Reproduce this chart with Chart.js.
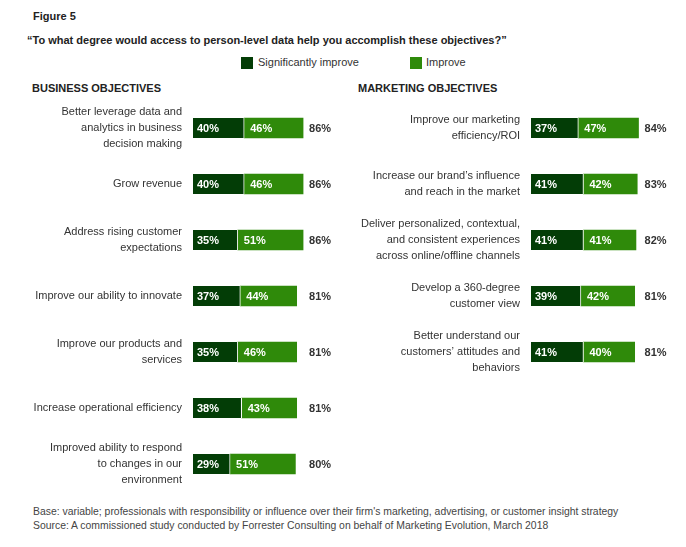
<!DOCTYPE html>
<html>
<head>
<meta charset="utf-8">
<script src="https://cdn.jsdelivr.net/npm/chart.js@4.4.1/dist/chart.umd.min.js"></script>
<style>
  html, body { margin: 0; padding: 0; background: #fff; overflow: hidden; }
  body { width: 686px; height: 547px; position: relative; font-family: "Liberation Sans", Arial, sans-serif; color: #222; }
  .txt { position: absolute; white-space: nowrap; }
  .b { font-weight: bold; }
  .sw { position: absolute; width: 12px; height: 12px; }
  canvas { position: absolute; }
</style>
</head>
<body>
<div class="txt b" style="left:33px; top:10px; font-size:11px;">Figure 5</div>
<div class="txt b" style="left:27px; top:34px; font-size:11px;">“To what degree would access to person-level data help you accomplish these objectives?”</div>

<div class="sw" style="left:241px; top:57px; background:#033d06;"></div>
<div class="txt" style="left:258px; top:56px; font-size:11px; color:#333;">Significantly improve</div>
<div class="sw" style="left:410px; top:57px; background:#2f8a0a;"></div>
<div class="txt" style="left:426px; top:56px; font-size:11px; color:#333;">Improve</div>

<div class="txt b" style="left:32px; top:82px; font-size:11px;">BUSINESS OBJECTIVES</div>
<div class="txt b" style="left:358px; top:82px; font-size:11px;">MARKETING OBJECTIVES</div>

<canvas id="business" width="351" height="392" style="left:0; top:100px;"></canvas>
<canvas id="marketing" width="345" height="280" style="left:340px; top:100px;"></canvas>

<div class="txt" style="left:33px; top:505px; font-size:10.4px; color:#444; line-height:14px;">Base: variable; professionals with responsibility or influence over their firm's marketing, advertising, or customer insight strategy<br>Source: A commissioned study conducted by Forrester Consulting on behalf of Marketing Evolution, March 2018</div>

<script>
// Business objectives
const businessLabels = [
    ['Better leverage data and', 'analytics in business', 'decision making'],
    ['Grow revenue'],
    ['Address rising customer', 'expectations'],
    ['Improve our ability to innovate'],
    ['Improve our products and', 'services'],
    ['Increase operational efficiency'],
    ['Improved ability to respond', 'to changes in our', 'environment'],
];
const businessSignificant = [40, 40, 35, 37, 35, 38, 29];
const businessImprove = [46, 46, 51, 44, 46, 43, 51];
const businessTotal = [86, 86, 86, 81, 81, 81, 80];

// Marketing objectives
const marketingLabels = [
    ['Improve our marketing', 'efficiency/ROI'],
    ['Increase our brand’s influence', 'and reach in the market'],
    ['Deliver personalized, contextual,', 'and consistent experiences', 'across online/offline channels'],
    ['Develop a 360-degree', 'customer view'],
    ['Better understand our', 'customers’ attitudes and', 'behaviors'],
];
const marketingSignificant = [37, 41, 41, 39, 41];
const marketingImprove = [47, 42, 41, 42, 40];
const marketingTotal = [84, 83, 82, 81, 81];

const DARK = '#033d06';
const LIGHT = '#2f8a0a';
const FONT = '"Liberation Sans", Arial, sans-serif';

// valeurs dans les barres + total a droite
const barLabels = {
    id: 'barLabels',
    afterDatasetsDraw(chart, args, opts) {
        const ctx = chart.ctx;
        ctx.save();
        ctx.font = 'bold 11px ' + FONT;
        ctx.textBaseline = 'middle';
        ctx.textAlign = 'left';
        ctx.fillStyle = '#fff';
        chart.data.datasets.forEach((ds, i) => {
            chart.getDatasetMeta(i).data.forEach((el, j) => {
                ctx.fillText(ds.data[j] + '%', el.base + (i === 0 ? 4 : 6), el.y + 1);
            });
        });
        const totals = opts.totals;
        const xTot = chart.scales.x.getPixelForValue(Math.max(...totals)) + 6;
        ctx.fillStyle = '#333';
        chart.getDatasetMeta(0).data.forEach((el, j) => {
            ctx.fillText(totals[j] + '%', xTot, el.y + 1);
        });
        ctx.restore();
    },
};

function makeChart(id, labels, significant, improve, totals, axisWidth) {
    return new Chart(document.getElementById(id), {
        type: 'bar',
        data: {
            labels: labels,
            datasets: [
                {
                    label: 'Significantly improve',
                    data: significant,
                    backgroundColor: DARK,
                    borderColor: '#fff',
                    borderWidth: { top: 0, right: 1, bottom: 0, left: 0 },
                    borderSkipped: false,
                },
                {
                    label: 'Improve',
                    data: improve,
                    backgroundColor: LIGHT,
                },
            ],
        },
        options: {
            indexAxis: 'y',
            responsive: false,
            animation: false,
            devicePixelRatio: 1,
            layout: { padding: { right: axisWidth.right, top: 0, bottom: 0, left: 0 } },
            datasets: { bar: { barThickness: 20 } },
            plugins: {
                legend: { display: false },
                tooltip: { enabled: false },
                barLabels: { totals: totals },
            },
            scales: {
                x: { display: false, stacked: true, min: 0, max: 100 },
                y: {
                    stacked: true,
                    grid: { display: false, drawTicks: false },
                    border: { display: false },
                    ticks: {
                        color: '#333',
                        padding: 11,
                        font: { family: FONT, size: 11, lineHeight: '16px' },
                    },
                    afterFit(scale) {
                        scale.width = axisWidth.left;
                        // les categories occupent toute la hauteur
                        scale.paddingTop = 0;
                        scale.paddingBottom = 0;
                    },
                },
            },
        },
        plugins: [barLabels],
    });
}

makeChart('business', businessLabels, businessSignificant, businessImprove, businessTotal, { left: 193, right: 30 });
makeChart('marketing', marketingLabels, marketingSignificant, marketingImprove, marketingTotal, { left: 191, right: 26 });
</script>
</body>
</html>
